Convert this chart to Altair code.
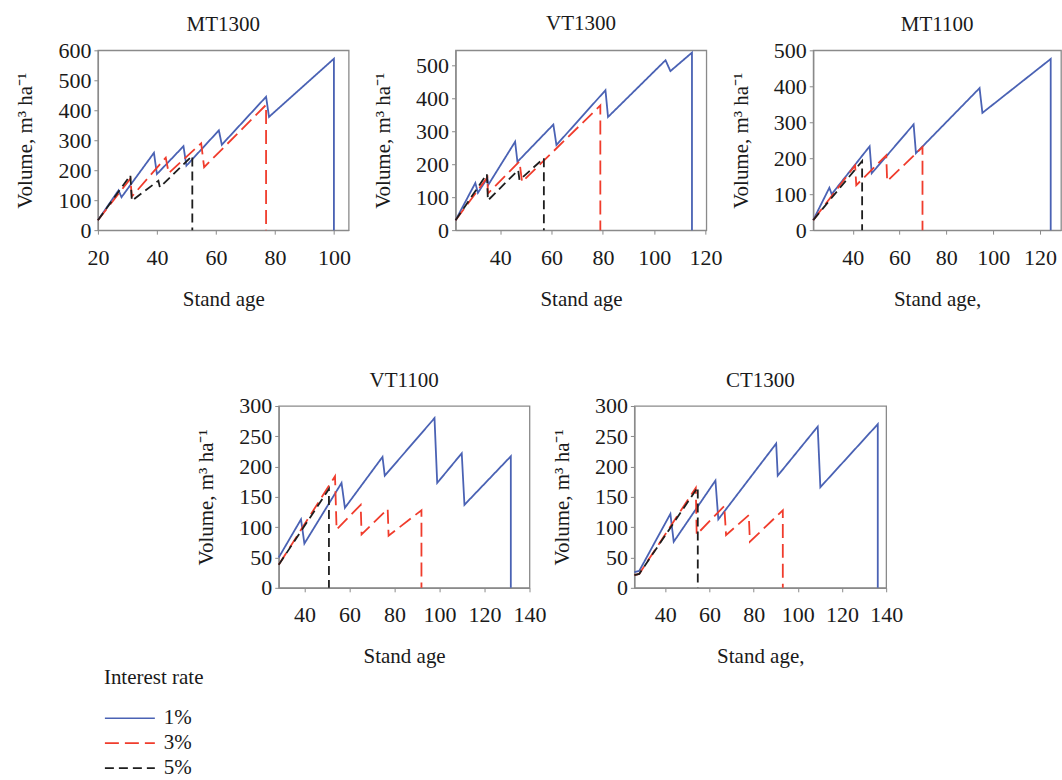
import altair as alt
import pandas as pd

RATES = ["1%", "3%", "5%"]
COLORS = ["#4a62b4", "#f03c2c", "#1e1e1e"]
DASHES = [[1, 0], [14, 6], [9, 5]]

# ---- MT1300 ----
MT1300_AGE_1 = [20, 27, 28, 39, 40, 49, 50, 61, 62, 77, 78, 100, 100]
MT1300_VOL_1 = [33, 133, 110, 258, 187, 280, 215, 333, 285, 445, 378, 572, 0]
MT1300_AGE_3 = [20, 31, 31.5, 43, 44, 55, 56, 77, 77]
MT1300_VOL_3 = [33, 172, 112, 242, 190, 290, 210, 418, 0]
MT1300_AGE_5 = [20, 31, 31.5, 40.5, 41, 52, 52]
MT1300_VOL_5 = [33, 183, 98, 165, 143, 248, 0]

# ---- VT1300 ----
VT1300_AGE_1 = [22.6, 30.3, 31.3, 35, 35.4, 45.8, 46.7, 60.7, 61.9, 81, 82, 104.4, 106.3, 114.7, 114.7]
VT1300_VOL_1 = [30, 143, 113, 158, 138, 268, 207, 320, 258, 424, 343, 515, 482, 538, 0]
VT1300_AGE_3 = [22.6, 35, 35.2, 47.5, 48.5, 79, 79]
VT1300_VOL_3 = [30, 160, 111, 208, 146, 378, 0]
VT1300_AGE_5 = [22.6, 34.8, 35.2, 47, 47.5, 57, 57]
VT1300_VOL_5 = [30, 170, 90, 182, 152, 218, 0]

# ---- MT1100 ----
MT1100_AGE_1 = [23.1, 30, 31, 47.2, 48.1, 66, 67, 94.2, 95.4, 124.6, 124.6]
MT1100_VOL_1 = [28, 118, 100, 233, 158, 294, 214, 395, 326, 476, 0]
MT1100_AGE_3 = [23.1, 41, 41.5, 54.3, 54.7, 69.8, 69.8]
MT1100_VOL_3 = [28, 180, 125, 208, 136, 231, 0]
MT1100_AGE_5 = [23.1, 44, 44]
MT1100_VOL_5 = [28, 192, 0]

# ---- VT1100 ----
VT1100_AGE_1 = [28.6, 38.5, 40, 56.5, 58, 74.7, 75.7, 97.8, 99, 109.9, 111.1, 131.7, 131.7]
VT1100_VOL_1 = [50, 113, 73, 173, 132, 216, 185, 280, 173, 222, 137, 217, 0]
VT1100_AGE_3 = [28.6, 53.6, 54.3, 65, 65.4, 77, 77.4, 92, 92]
VT1100_VOL_3 = [38, 184, 96, 137, 88, 130, 86, 128, 0]
VT1100_AGE_5 = [28.6, 50.9, 50.9]
VT1100_VOL_5 = [38, 163, 0]

# ---- CT1300 ----
CT1300_AGE_1 = [26, 28.2, 42.3, 43.8, 62.7, 64, 90.2, 90.9, 109, 110.2, 136.2, 136.2]
CT1300_VOL_1 = [26, 28, 122, 76, 177, 113, 238, 185, 266, 166, 270, 0]
CT1300_AGE_3 = [26, 28.2, 53.8, 54.2, 66.7, 67.5, 77.8, 78.3, 93.2, 93.2]
CT1300_VOL_3 = [21, 23, 165, 88, 135, 87, 120, 76, 128, 0]
CT1300_AGE_5 = [26, 28.2, 54.7, 54.7]
CT1300_VOL_5 = [21, 23, 166, 0]

SERIES = {
    "MT1300": [(MT1300_AGE_1, MT1300_VOL_1), (MT1300_AGE_3, MT1300_VOL_3), (MT1300_AGE_5, MT1300_VOL_5)],
    "VT1300": [(VT1300_AGE_1, VT1300_VOL_1), (VT1300_AGE_3, VT1300_VOL_3), (VT1300_AGE_5, VT1300_VOL_5)],
    "MT1100": [(MT1100_AGE_1, MT1100_VOL_1), (MT1100_AGE_3, MT1100_VOL_3), (MT1100_AGE_5, MT1100_VOL_5)],
    "VT1100": [(VT1100_AGE_1, VT1100_VOL_1), (VT1100_AGE_3, VT1100_VOL_3), (VT1100_AGE_5, VT1100_VOL_5)],
    "CT1300": [(CT1300_AGE_1, CT1300_VOL_1), (CT1300_AGE_3, CT1300_VOL_3), (CT1300_AGE_5, CT1300_VOL_5)],
}

rows = []
for pname, series in SERIES.items():
    for rate, (ages, vols) in zip(RATES, series):
        for i, (a, v) in enumerate(zip(ages, vols)):
            rows.append({"panel": pname, "rate": rate, "age": a, "vol": v, "seq": i})
df = pd.DataFrame(rows)

YTITLE = "Volume, m³ ha⁻¹"
LEGEND = alt.Legend(title="Interest rate", orient="none", legendX=6, legendY=617)


def panel(name, xdom, xticks, ydom, yticks, w, h, xtitle, toff):
    return (
        alt.Chart(df)
        .transform_filter(alt.datum.panel == name)
        .mark_line(strokeWidth=1.8)
        .encode(
            x=alt.X("age:Q", scale=alt.Scale(domain=xdom, nice=False, zero=False),
                    axis=alt.Axis(values=xticks, title=xtitle)),
            y=alt.Y("vol:Q", scale=alt.Scale(domain=ydom, nice=False, zero=False),
                    axis=alt.Axis(values=yticks, title=YTITLE)),
            color=alt.Color("rate:N", scale=alt.Scale(domain=RATES, range=COLORS), legend=LEGEND),
            strokeDash=alt.StrokeDash("rate:N", scale=alt.Scale(domain=RATES, range=DASHES), legend=LEGEND),
            order=alt.Order("seq:Q"),
        )
        .properties(width=w, height=h, title=alt.TitleParams(name, offset=toff))
    )


p1 = panel("MT1300", [20, 105], [20, 40, 60, 80, 100], [0, 600], [0, 100, 200, 300, 400, 500, 600], 251, 180, "Stand age", 4)
p2 = panel("VT1300", [22.6, 120.3], [40, 60, 80, 100, 120], [0, 545], [0, 100, 200, 300, 400, 500], 251, 180, "Stand age", 15)
p3 = panel("MT1100", [23.1, 129], [40, 60, 80, 100, 120], [0, 500], [0, 100, 200, 300, 400, 500], 248, 180, "Stand age,", 4)
p4 = panel("VT1100", [28.6, 140], [40, 60, 80, 100, 120, 140], [0, 300], [0, 50, 100, 150, 200, 250, 300], 251, 182, "Stand age", 4)
p5 = panel("CT1300", [26, 140], [40, 60, 80, 100, 120, 140], [0, 300], [0, 50, 100, 150, 200, 250, 300], 252, 182, "Stand age,", 4)

# invisible spacer that centres the lower row under the upper one
spacer = (
    alt.Chart(pd.DataFrame({"v": [0]}))
    .mark_point(opacity=0)
    .encode(x=alt.X("v:Q", axis=None), y=alt.Y("v:Q", axis=None))
    .properties(width=76, height=1, view=alt.ViewBackground(strokeOpacity=0))
)

row1 = alt.hconcat(p1, p2, p3, spacing=107, bounds="flush")
row2 = alt.hconcat(spacer, p4, p5, spacing=105, bounds="flush")

chart = (
    alt.vconcat(row1, row2, spacing=59)
    .properties(padding={"left": 14, "top": 12, "right": 0, "bottom": 0}, background="white")
    .configure_view(stroke="#8a8a8a", strokeWidth=1.3)
    .configure_axis(
        grid=False,
        domainColor="#8a8a8a",
        domainWidth=1.3,
        tickColor="#8a8a8a",
        tickSize=4,
        labelFont="Liberation Serif",
        labelFontSize=22,
        labelColor="#1a1a1a",
        labelFlush=False,
        labelOverlap=False,
        titleFont="Liberation Serif",
        titleFontSize=21,
        titleFontWeight="normal",
        titleColor="#1a1a1a",
    )
    .configure_axisX(labelPadding=13, titlePadding=20)
    .configure_axisY(labelPadding=3, titlePadding=22)
    .configure_title(font="Liberation Serif", fontSize=21, fontWeight="normal", color="#1a1a1a", anchor="middle")
    .configure_legend(
        titleFont="Liberation Serif",
        titleFontSize=21,
        titleFontWeight="normal",
        titleColor="#1a1a1a",
        labelFont="Liberation Serif",
        labelFontSize=21,
        labelColor="#1a1a1a",
        symbolType="stroke",
        symbolSize=2500,
        symbolStrokeWidth=1.6,
        clipHeight=25,
        titlePadding=18,
        labelOffset=8,
        rowPadding=0,
        padding=0,
    )
)

chart.save("out.html", embed_options={"renderer": "svg", "actions": False})
